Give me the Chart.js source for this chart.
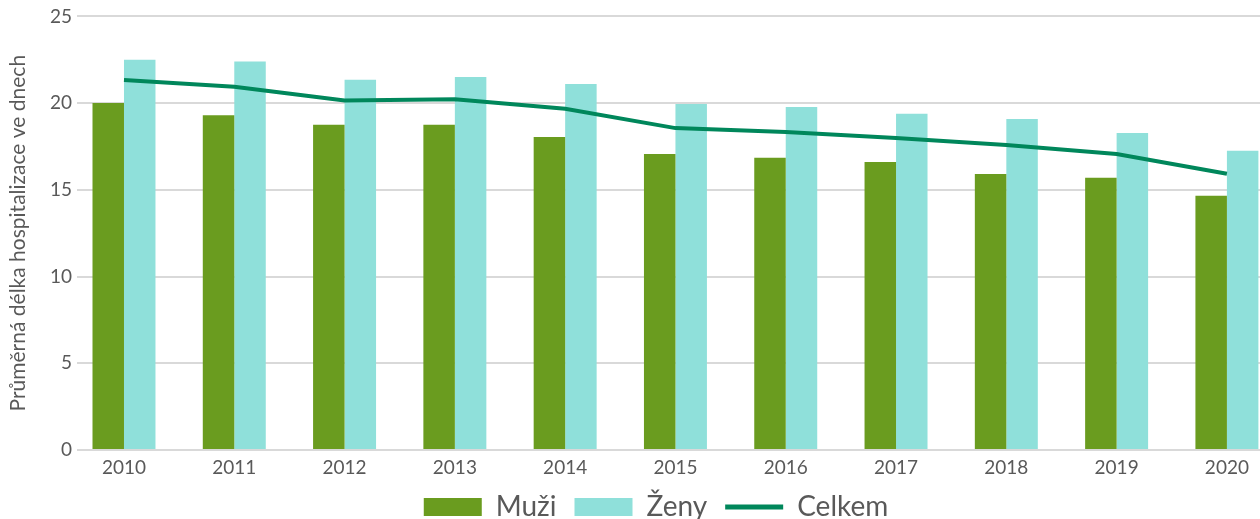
<!DOCTYPE html>
<html>
<head>
<meta charset="utf-8">
<script src="https://cdn.jsdelivr.net/npm/chart.js@4"></script>
<style>
  html, body { margin: 0; padding: 0; background: #fff; overflow: hidden; }
  #wrap { width: 1260px; height: 519px; position: relative; }
</style>
</head>
<body>
<div id="wrap"><canvas id="canvas"></canvas></div>
<script>
const years = ['2010', '2011', '2012', '2013', '2014', '2015', '2016', '2017', '2018', '2019', '2020'];
const muzi = [20.0, 19.3, 18.75, 18.75, 18.05, 17.07, 16.85, 16.6, 15.92, 15.7, 14.66];
const zeny = [22.5, 22.4, 21.35, 21.5, 21.1, 19.95, 19.78, 19.38, 19.08, 18.28, 17.25];
const celkem = [21.33, 20.95, 20.15, 20.22, 19.67, 18.56, 18.33, 17.99, 17.59, 17.07, 15.93];
const yTicks = [0, 5, 10, 15, 20, 25];

const green = '#6a9c1f';
const aqua = '#8fe0da';
const dark = '#00875b';
const txt = '#595959';
const fontFam = 'Lato, "Open Sans", sans-serif';

function pts(arr) {
    return arr.map((v, i) => ({ x: i, y: v }));
}

// the original chart is cut off on the right, so its legend sits a bit right of centre
const shiftLegend = {
    id: 'shiftLegend',
    afterLayout(c) {
        c.legend.left += 26;
        c.legend.right += 26;
    }
};

const ctx = document.getElementById('canvas').getContext('2d');

var chart = new Chart(ctx, {
    type: 'bar',
    data: {
        datasets: [
            { label: 'Muži', data: pts(muzi), backgroundColor: green, order: 1 },
            { label: 'Ženy', data: pts(zeny), backgroundColor: aqua, order: 1 },
            { label: 'Celkem', type: 'line', data: pts(celkem), borderColor: dark,
              borderWidth: 4, pointRadius: 0, tension: 0, order: 0 }
        ]
    },
    plugins: [shiftLegend],
    options: {
        responsive: true,
        maintainAspectRatio: false,
        animation: false,
        layout: { padding: { top: 15, right: 0, bottom: -12, left: 0 } },
        datasets: { bar: { categoryPercentage: 0.571, barPercentage: 1.0 } },
        plugins: {
            tooltip: { enabled: false },
            legend: {
                position: 'bottom',
                labels: {
                    usePointStyle: true,
                    pointStyleWidth: 58,
                    boxHeight: 18,
                    padding: 18,
                    color: txt,
                    font: { family: fontFam, size: 28 },
                    generateLabels: c => c.data.datasets.map((d, i) => ({
                        text: d.label,
                        fillStyle: d.type === 'line' ? dark : d.backgroundColor,
                        strokeStyle: d.type === 'line' ? dark : d.backgroundColor,
                        lineWidth: d.type === 'line' ? 5 : 0,
                        pointStyle: d.type === 'line' ? 'line' : 'rect',
                        fontColor: txt,
                        datasetIndex: i,
                        hidden: false
                    }))
                }
            }
        },
        scales: {
            x: {
                type: 'linear',
                offset: false,
                min: -0.426,
                max: 10.3,
                grid: { display: false, drawTicks: false },
                border: { display: false },
                afterFit: s => { s.height = 25; },
                ticks: {
                    stepSize: 1,
                    includeBounds: false,
                    autoSkip: false,
                    maxRotation: 0,
                    color: txt,
                    padding: 6,
                    font: { family: fontFam, size: 19 },
                    callback: v => years[v] !== undefined && Number.isInteger(v) ? years[v] : ''
                }
            },
            y: {
                min: 0,
                max: 25,
                afterBuildTicks: s => { s.ticks = yTicks.map(v => ({ value: v })); },
                afterFit: s => { s.width = 77; },
                grid: { color: '#d9d9d9', lineWidth: 2, drawTicks: false },
                border: { display: false },
                ticks: {
                    color: txt,
                    padding: 5,
                    font: { family: fontFam, size: 19 }
                },
                title: {
                    display: true,
                    text: 'Průměrná délka hospitalizace ve dnech',
                    color: txt,
                    padding: { top: 6, bottom: 0 },
                    font: { family: fontFam, size: 21 }
                }
            }
        }
    }
});
</script>
</body>
</html>
